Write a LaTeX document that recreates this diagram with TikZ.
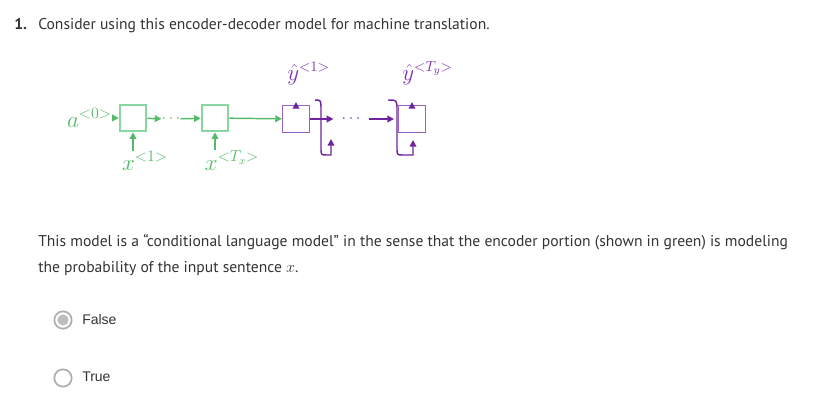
\documentclass[tikz,border=0pt]{standalone}
\usepackage{fontspec}
\setmainfont{PT Sans}
\newfontfamily\radiofont{Liberation Sans}
\usetikzlibrary{arrows.meta, positioning, calc}
\definecolor{enccol}{RGB}{84,186,104}
\definecolor{encboxcol}{RGB}{136,215,160}
\definecolor{deccol}{RGB}{110,36,160}
\definecolor{decboxcol}{RGB}{150,100,192}
\definecolor{declblcol}{RGB}{128,52,180}
\definecolor{txtcol}{RGB}{51,51,51}
\definecolor{radiocol}{RGB}{175,175,175}
\definecolor{radiofill}{RGB}{190,190,190}

\begin{document}
\begin{tikzpicture}[x=0.75pt, y=-0.75pt, text=txtcol,
  font=\fontsize{11.7}{14}\selectfont,
  encbox/.style={draw=encboxcol, line width=1.4pt, minimum size=20pt, inner sep=0pt},
  decbox/.style={draw=decboxcol, line width=1.1pt, minimum size=20pt, inner sep=0pt},
  encarrow/.style={enccol, line width=1.1pt, -{Triangle[length=5pt,width=5pt]}},
  decarrow/.style={deccol, line width=1.1pt, -{Triangle[length=5pt,width=5pt]}},
  enclbl/.style={text=enccol, font=\fontsize{17}{20}\selectfont, inner sep=0pt},
  declbl/.style={text=declblcol, font=\fontsize{16}{19}\selectfont, inner sep=0pt},
  dotlbl/.style={font=\fontsize{13}{15}\selectfont, inner sep=0pt},
  radio/.style={draw=radiocol, line width=1.3pt, circle, minimum size=13pt, inner sep=0pt},
  answer/.style={font=\radiofont\fontsize{10.5}{12}\selectfont, anchor=west, inner sep=0pt}]
  \useasboundingbox (0,0) rectangle (814,405);

  % question header
  \node[anchor=base west, inner sep=0pt, font=\fontsize{11.7}{14}\selectfont\bfseries] (qnum) at (14,29) {1.};
  \node[anchor=base west, inner sep=0pt] (qtext) at (38,29)
    {Consider using this encoder-decoder model for machine translation.};

  % encoder
  \node[encbox] (e1) at (133,118) {};
  \node[encbox] (e2) at (215,118) {};
  \node[enclbl, anchor=base east] (a0) at (112,127) {$a^{<0>}$};
  \node[dotlbl, text=enccol] (edots) at (171,119) {$\cdots$};
  \node[enclbl, anchor=base] (x1) at (145,170) {$x^{<1>}$};
  \node[enclbl, anchor=base] (xT) at (232,170) {$x^{<T_x>}$};
  \draw[encarrow] (a0.east |- e1) -- (e1);
  \draw[encarrow] (e1) -- (edots);
  \draw[encarrow] (edots) -- (e2);
  \draw[encarrow] (x1.north -| e1) -- (e1);
  \draw[encarrow] (xT.north -| e2) -- (e2);

  % decoder
  \node[decbox] (d1) at (296,119) {};
  \node[decbox] (d2) at (412,119) {};
  \draw[encarrow] (e2) -- (d1);
  \node[declbl, anchor=base west] (y1) at (287,80) {$\hat{y}^{<1>}$};
  \node[declbl, anchor=base west] (yT) at (402,80) {$\hat{y}^{<T_y>}$};
  \node[dotlbl, text=declblcol, minimum width=26pt] (ddots) at (351,119) {$\cdots$};
  \draw[decarrow] (d1) -- ++(0,-17) coordinate (y1in);
  \draw[decarrow] (d2) -- ++(0,-17) coordinate (yTin);
  \draw[decarrow] (d1) -- (ddots);

  % feedback
  \coordinate (fb1s) at (315,100);
  \coordinate (fb1e) at (331,139);
  \coordinate (fb2s) at (388,100);
  \coordinate (fb2e) at (413,140);
  \draw[decarrow] (fb1s) .. controls (321,100) .. (321,110) -- (321,148)
    .. controls (321,155) .. (327,155) -- (331,155) -- (fb1e);
  \draw[decarrow] (fb2s) .. controls (397,100) .. (397,110) -- (397,148)
    .. controls (397,155) .. (403,155) -- (413,155) -- (fb2e);
  \draw[decarrow] (ddots) -- (ddots -| 394,0);

  % statement
  \node[anchor=base west, inner sep=0pt] (st1) at (38,246)
    {This model is a “conditional language model” in the sense that the encoder portion (shown in green) is modeling};
  \node[anchor=base west, inner sep=0pt] (st2) at (38,272)
    {the probability of the input sentence $x$.};

  % options
  \node[radio] (rfalse) at (63,320) {};
  \fill[radiofill] (rfalse) circle (4.2pt);
  \node[answer] (lfalse) at (82,319) {False};
  \node[radio] (rtrue) at (63,378) {};
  \node[answer] (ltrue) at (82,377) {True};
\end{tikzpicture}
\end{document}
